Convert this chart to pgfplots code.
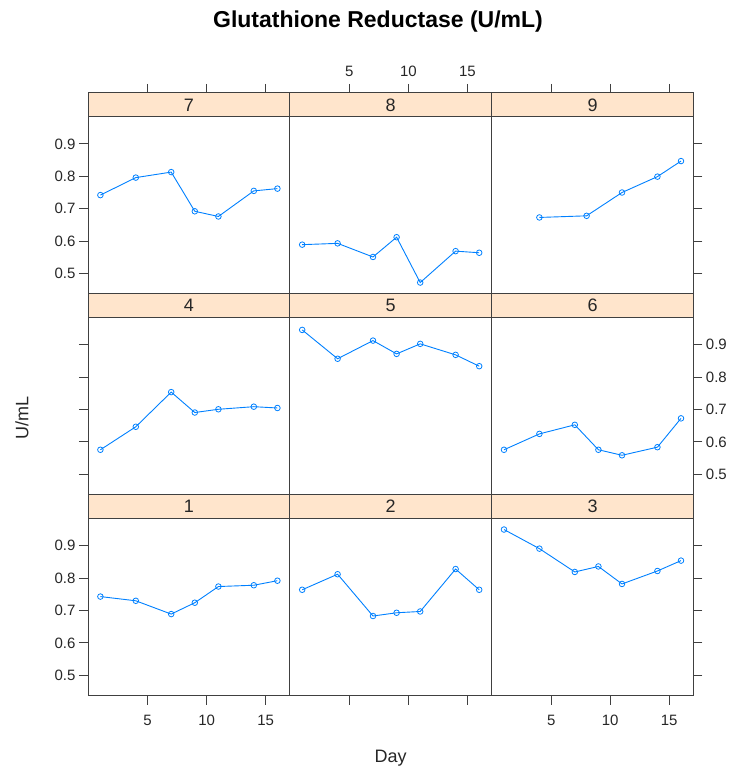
\documentclass[border=0pt]{standalone}
\usepackage{pgfplots}
\pgfplotsset{compat=1.18}
\usepackage{fontspec}
\setmainfont{Liberation Sans}
\definecolor{stripfill}{HTML}{FFE5CC}
\definecolor{latline}{HTML}{0080FF}
\definecolor{frame}{HTML}{404040}
\pgfplotsset{
  panel/.style={
    scale only axis, width=201.8pt, height=200.9pt,
    xmin=-0.05, xmax=17.05, ymin=0.437, ymax=1.0572,
    anchor=south west, clip=false,
    axis line style={frame, line width=1pt},
    every tick/.style={frame, line width=1pt},
    major tick length=9pt, tick align=outside,
    xtick={5,10,15}, ytick={0.5,0.6,0.7,0.8,0.9},
    xticklabels={5,10,15}, yticklabels={0.5,0.6,0.7,0.8,0.9},
    /pgf/number format/assume math mode=true,
    tick label style={font=\fontsize{15}{17}\selectfont, text=black!85},
    minor tick num=0,
  },
  bottomx/.style={xtick pos=left, xticklabel pos=left, xticklabel style={yshift=-7pt}},
  topx/.style={xtick pos=right, xticklabel pos=right, xticklabel style={yshift=4pt}},
  ser/.style={color=latline, line width=0.9pt, mark=o, mark size=2.8pt, mark options={line width=0.8pt}},
}
\newcommand{\strip}[1]{%
  \draw[frame, line width=1pt, fill=stripfill] (rel axis cs:0,0.88203) rectangle (rel axis cs:1,1);
  \node[font=\fontsize{18}{20}\selectfont, text=black!85] at (rel axis cs:0.5,0.94101) {#1};
}
\begin{document}
\begin{tikzpicture}
\useasboundingbox (0pt,0pt) rectangle (736pt,774pt);
% bottom row
\begin{axis}[panel, at={(88pt,78.3pt)}, bottomx, ytick pos=left, yticklabel pos=left]
\strip{1}
\addplot[ser] coordinates {(1,0.743)(4,0.730)(7,0.689)(9,0.724)(11,0.774)(14,0.778)(16,0.792)};
\end{axis}
\begin{axis}[panel, at={(289.8pt,78.3pt)}, bottomx, xticklabels={}, ytick=\empty]
\strip{2}
\addplot[ser] coordinates {(1,0.764)(4,0.812)(7,0.683)(9,0.693)(11,0.697)(14,0.828)(16,0.764)};
\end{axis}
\begin{axis}[panel, at={(491.6pt,78.3pt)}, bottomx, ytick pos=right, yticklabels={}]
\strip{3}
\addplot[ser] coordinates {(1,0.950)(4,0.891)(7,0.819)(9,0.836)(11,0.782)(14,0.822)(16,0.854)};
\end{axis}
% middle row
\begin{axis}[panel, at={(88pt,279.2pt)}, xtick=\empty, ytick pos=left, yticklabels={}]
\strip{4}
\addplot[ser] coordinates {(1,0.576)(4,0.647)(7,0.754)(9,0.691)(11,0.701)(14,0.709)(16,0.705)};
\end{axis}
\begin{axis}[panel, at={(289.8pt,279.2pt)}, xtick=\empty, ytick=\empty]
\strip{5}
\addplot[ser] coordinates {(1,0.946)(4,0.857)(7,0.913)(9,0.872)(11,0.903)(14,0.869)(16,0.834)};
\end{axis}
\begin{axis}[panel, at={(491.6pt,279.2pt)}, xtick=\empty, ytick pos=right, yticklabel pos=right]
\strip{6}
\addplot[ser] coordinates {(1,0.576)(4,0.625)(7,0.653)(9,0.576)(11,0.559)(14,0.584)(16,0.673)};
\end{axis}
% top row
\begin{axis}[panel, at={(88pt,480.1pt)}, topx, xticklabels={}, ytick pos=left, yticklabel pos=left]
\strip{7}
\addplot[ser] coordinates {(1,0.742)(4,0.796)(7,0.813)(9,0.692)(11,0.676)(14,0.755)(16,0.762)};
\end{axis}
\begin{axis}[panel, at={(289.8pt,480.1pt)}, topx, ytick=\empty]
\strip{8}
\addplot[ser] coordinates {(1,0.589)(4,0.593)(7,0.551)(9,0.612)(11,0.472)(14,0.569)(16,0.564)};
\end{axis}
\begin{axis}[panel, at={(491.6pt,480.1pt)}, topx, xticklabels={}, ytick pos=right, yticklabels={}]
\strip{9}
\addplot[ser] coordinates {(4,0.673)(8,0.678)(11,0.750)(14,0.799)(16,0.847)};
\end{axis}
\node[font=\fontsize{23}{27}\selectfont\bfseries] at (378pt,752pt) {Glutathione Reductase (U/mL)};
\node[font=\fontsize{18}{21}\selectfont, text=black!85] at (390.7pt,16pt) {Day};
\node[font=\fontsize{18}{21}\selectfont, text=black!85, rotate=90] at (22pt,356pt) {U/mL};
\end{tikzpicture}
\end{document}
